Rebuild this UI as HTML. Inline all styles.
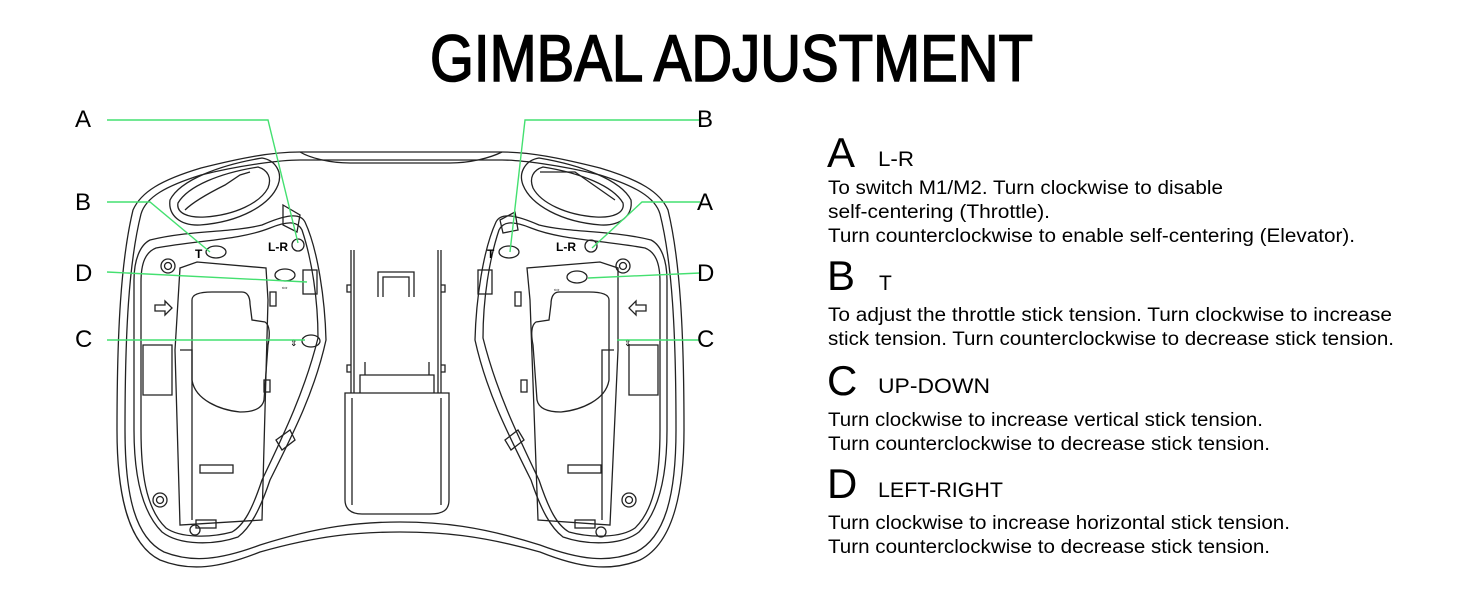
<!DOCTYPE html>
<html><head><meta charset="utf-8"><style>
html,body{margin:0;padding:0;background:#fff;}
svg{display:block;}
text{font-family:"Liberation Sans",sans-serif;fill:#000;}
</style></head><body>
<svg width="1464" height="600" viewBox="0 0 1464 600" xmlns="http://www.w3.org/2000/svg">
<text x="430" y="81" font-size="66" textLength="603" lengthAdjust="spacingAndGlyphs" stroke="#000" stroke-width="1.6">GIMBAL ADJUSTMENT</text>

<g fill="none" stroke="#222" stroke-width="1.3">
<path d="M300,152 L502,152 C530,152 560,158 600,168 C640,180 660,192 668,210 C680,260 684,330 684,430 C684,500 670,545 640,560 C610,572 580,568 540,552 C480,535 440,532 400,532 C360,532 320,535 260,552 C220,568 190,572 160,560 C130,545 117,500 117,430 C117,330 121,260 133,210 C141,192 161,180 201,168 C241,158 271,152 300,152 Z"/>
<path d="M300,160 L502,160 C520,160 560,165 600,175 C635,186 655,197 660,214 C672,262 676,330 676,430 C676,498 664,538 636,552 C608,563 580,560 540,545 C480,526 440,522 400,522 C360,522 320,526 260,545 C220,560 192,563 164,552 C136,538 125,498 125,430 C125,330 129,262 141,214 C146,197 166,186 201,175 C241,165 281,160 300,160 Z"/>
<path d="M300,152 C310,158 330,163 350,163 L450,163 C470,163 490,158 502,152"/>
<path d="M170,200 C180,180 220,165 262,158 C275,160 283,172 278,185 C270,205 240,222 200,225 C180,226 168,215 170,200 Z"/>
<path d="M178,203 C188,186 220,173 258,167 C268,170 272,178 268,188 C260,203 235,215 205,217 C188,218 176,213 178,203 Z"/>
<path d="M185,210 C195,200 215,190 225,185 L240,175 L250,172"/>
<path d="M631,200 C621,180 581,165 539,158 C526,160 518,172 523,185 C531,205 561,222 601,225 C621,226 633,215 631,200 Z"/>
<path d="M623,203 C613,186 581,173 543,167 C533,170 529,178 533,188 C541,203 566,215 596,217 C613,218 625,213 623,203 Z"/>
<path d="M540,172 L575,172 L615,200"/>
<path d="M150,240 C190,230 230,233 262,225 C285,215 300,212 305,222 C318,250 325,300 326,340 C315,390 295,430 270,480 C260,510 250,528 238,537 C215,545 180,546 162,532 C140,510 134,470 134,430 L134,280 C134,260 140,245 150,240 Z"/>
<path d="M156,248 C200,240 240,240 270,228 C290,220 298,222 302,230 C312,260 318,300 318,338 C305,390 285,432 262,480 C252,510 244,525 232,532 C210,538 180,538 166,528 C145,508 141,470 141,430 L141,282 C141,262 146,252 156,248 Z"/>
<circle cx="168" cy="266" r="7"/><circle cx="168" cy="266" r="3.5"/>
<circle cx="160" cy="500" r="7"/><circle cx="160" cy="500" r="3.5"/>
<path d="M197,262 L266,268 L268,300 L262,520 L180,525 L175,350 L180,268 Z"/>
<path d="M212,292 L242,292 C248,292 250,298 250,304 L252,320 L265,322 C270,325 270,335 268,345 L264,400 C262,410 250,412 240,412 C220,410 195,400 192,380 L192,300 C192,294 200,292 212,292 Z"/>
<path d="M143,345 L172,345 L172,395 L143,395 Z"/>
<path d="M180,350 L192,350 L192,520"/>
<rect x="200" y="465" width="33" height="8"/>
<path d="M155,305 L165,305 L165,301 L172,308 L165,315 L165,311 L155,311 Z"/>
<rect x="270" y="292" width="6" height="14"/>
<rect x="264" y="380" width="6" height="12"/>
<path d="M276,440 L290,430 L295,440 L282,450 Z"/>
<rect x="196" y="520" width="20" height="8"/>
<circle cx="195" cy="530" r="5"/>
<rect x="303" y="270" width="14" height="24"/>
<path d="M283,205 L300,215 L297,232 L283,225 Z"/>
<ellipse cx="216" cy="252" rx="10" ry="6"/>
<circle cx="298" cy="245" r="6"/>
<ellipse cx="285" cy="275" rx="10" ry="6"/>
<ellipse cx="311" cy="341" rx="9" ry="6"/>
<path d="M651,240 C611,230 571,233 539,225 C516,215 501,212 496,222 C483,250 476,300 475,340 C486,390 506,430 531,480 C541,510 551,528 563,537 C586,545 621,546 639,532 C661,510 667,470 667,430 L667,280 C667,260 661,245 651,240 Z"/>
<path d="M645,248 C601,240 561,240 531,228 C511,220 503,222 499,230 C489,260 483,300 483,338 C496,390 516,432 539,480 C549,510 557,525 569,532 C591,538 621,538 635,528 C656,508 660,470 660,430 L660,282 C660,262 655,252 645,248 Z"/>
<circle cx="623" cy="266" r="7"/><circle cx="623" cy="266" r="3.5"/>
<circle cx="629" cy="500" r="7"/><circle cx="629" cy="500" r="3.5"/>
<path d="M600,262 L527,268 L530,300 L538,520 L610,525 L618,350 L618,268 Z"/>
<path d="M589,292 L559,292 C553,292 551,298 551,304 L549,320 L536,322 C531,325 531,335 533,345 L537,400 C539,410 551,412 561,412 C581,410 606,400 609,380 L609,300 C609,294 601,292 589,292 Z"/>
<path d="M658,345 L629,345 L629,395 L658,395 Z"/>
<path d="M614,350 L602,350 L602,520"/>
<rect x="568" y="465" width="33" height="8"/>
<path d="M646,305 L636,305 L636,301 L629,308 L636,315 L636,311 L646,311 Z"/>
<rect x="515" y="292" width="6" height="14"/>
<rect x="521" y="380" width="6" height="12"/>
<path d="M505,440 L518,430 L524,440 L511,450 Z"/>
<rect x="575" y="520" width="20" height="8"/>
<circle cx="601" cy="532" r="5"/>
<rect x="478" y="270" width="14" height="24"/>
<path d="M500,220 L515,212 L518,230 L503,233 Z"/>
<ellipse cx="509" cy="252" rx="10" ry="6"/>
<circle cx="591" cy="246" r="6"/>
<ellipse cx="577" cy="277" rx="10" ry="6"/>
<path d="M351,250 L351,393 M354,250 L354,393 M441,250 L441,393 M438,250 L438,393"/>
<path d="M351,285 L347,285 L347,292 L351,292 M441,285 L445,285 L445,292 L441,292 M351,365 L347,365 L347,372 L351,372 M441,365 L445,365 L445,372 L441,372"/>
<path d="M360,393 L360,375 L434,375 L434,393 M365,375 L365,362 M429,375 L429,362"/>
<path d="M378,297 L378,272 L414,272 L414,297 M383,297 L383,277 L409,277 L409,297"/>
<path d="M345,393 L449,393 L449,500 C449,510 443,514 430,514 L362,514 C350,514 345,508 345,500 Z"/>
<path d="M352,398 L352,505 M441,398 L441,505"/>
</g>
<g font-weight="bold" font-size="12">
<text x="195" y="258">T</text><text x="268" y="251">L-R</text>
<text x="487" y="258">T</text><text x="556" y="251">L-R</text>
</g>
<g font-size="9" fill="#000"><text x="280" y="290">⇔</text><text x="552" y="292">⇔</text><text x="290" y="346">⇕</text><text x="624" y="346">⇕</text></g>

<g stroke="#44e070" stroke-width="1.4" fill="none">
<path d="M107,120 L268,120 L298,243"/>
<path d="M107,202 L150,202 L210,252"/>
<path d="M107,272 L307,282"/>
<path d="M107,340 L305,340"/>
<path d="M700,120 L525,120 L510,252"/>
<path d="M700,202 L642,202 L592,248"/>
<path d="M700,273 L588,278"/>
<path d="M700,340 L617,340"/>
</g>
<g font-size="24">
<text x="75" y="127">A</text><text x="75" y="210">B</text><text x="75" y="281">D</text><text x="75" y="347">C</text>
<text x="697" y="127">B</text><text x="697" y="210">A</text><text x="697" y="281">D</text><text x="697" y="347">C</text>
</g>

<g font-size="42">
<text x="827" y="167">A</text><text x="827" y="290">B</text><text x="827" y="395">C</text><text x="827" y="498">D</text>
</g>
<g font-size="21">
<text x="878" y="166" textLength="36" lengthAdjust="spacingAndGlyphs">L-R</text>
<text x="879" y="290">T</text>
<text x="878" y="393" textLength="112" lengthAdjust="spacingAndGlyphs">UP-DOWN</text>
<text x="878" y="497" textLength="125" lengthAdjust="spacingAndGlyphs">LEFT-RIGHT</text>
</g>
<g font-size="19">
<text x="828" y="194" textLength="395" lengthAdjust="spacingAndGlyphs">To switch M1/M2. Turn clockwise to disable</text>
<text x="828" y="218" textLength="222" lengthAdjust="spacingAndGlyphs">self-centering (Throttle).</text>
<text x="828" y="242" textLength="527" lengthAdjust="spacingAndGlyphs">Turn counterclockwise to enable self-centering (Elevator).</text>
<text x="828" y="321" textLength="564" lengthAdjust="spacingAndGlyphs">To adjust the throttle stick tension. Turn clockwise to increase</text>
<text x="828" y="345" textLength="566" lengthAdjust="spacingAndGlyphs">stick tension. Turn counterclockwise to decrease stick tension.</text>
<text x="828" y="426" textLength="435" lengthAdjust="spacingAndGlyphs">Turn clockwise to increase vertical stick tension.</text>
<text x="828" y="450" textLength="442" lengthAdjust="spacingAndGlyphs">Turn counterclockwise to decrease stick tension.</text>
<text x="828" y="529" textLength="462" lengthAdjust="spacingAndGlyphs">Turn clockwise to increase horizontal stick tension.</text>
<text x="828" y="553" textLength="442" lengthAdjust="spacingAndGlyphs">Turn counterclockwise to decrease stick tension.</text>
</g>
</svg>
</body></html>
